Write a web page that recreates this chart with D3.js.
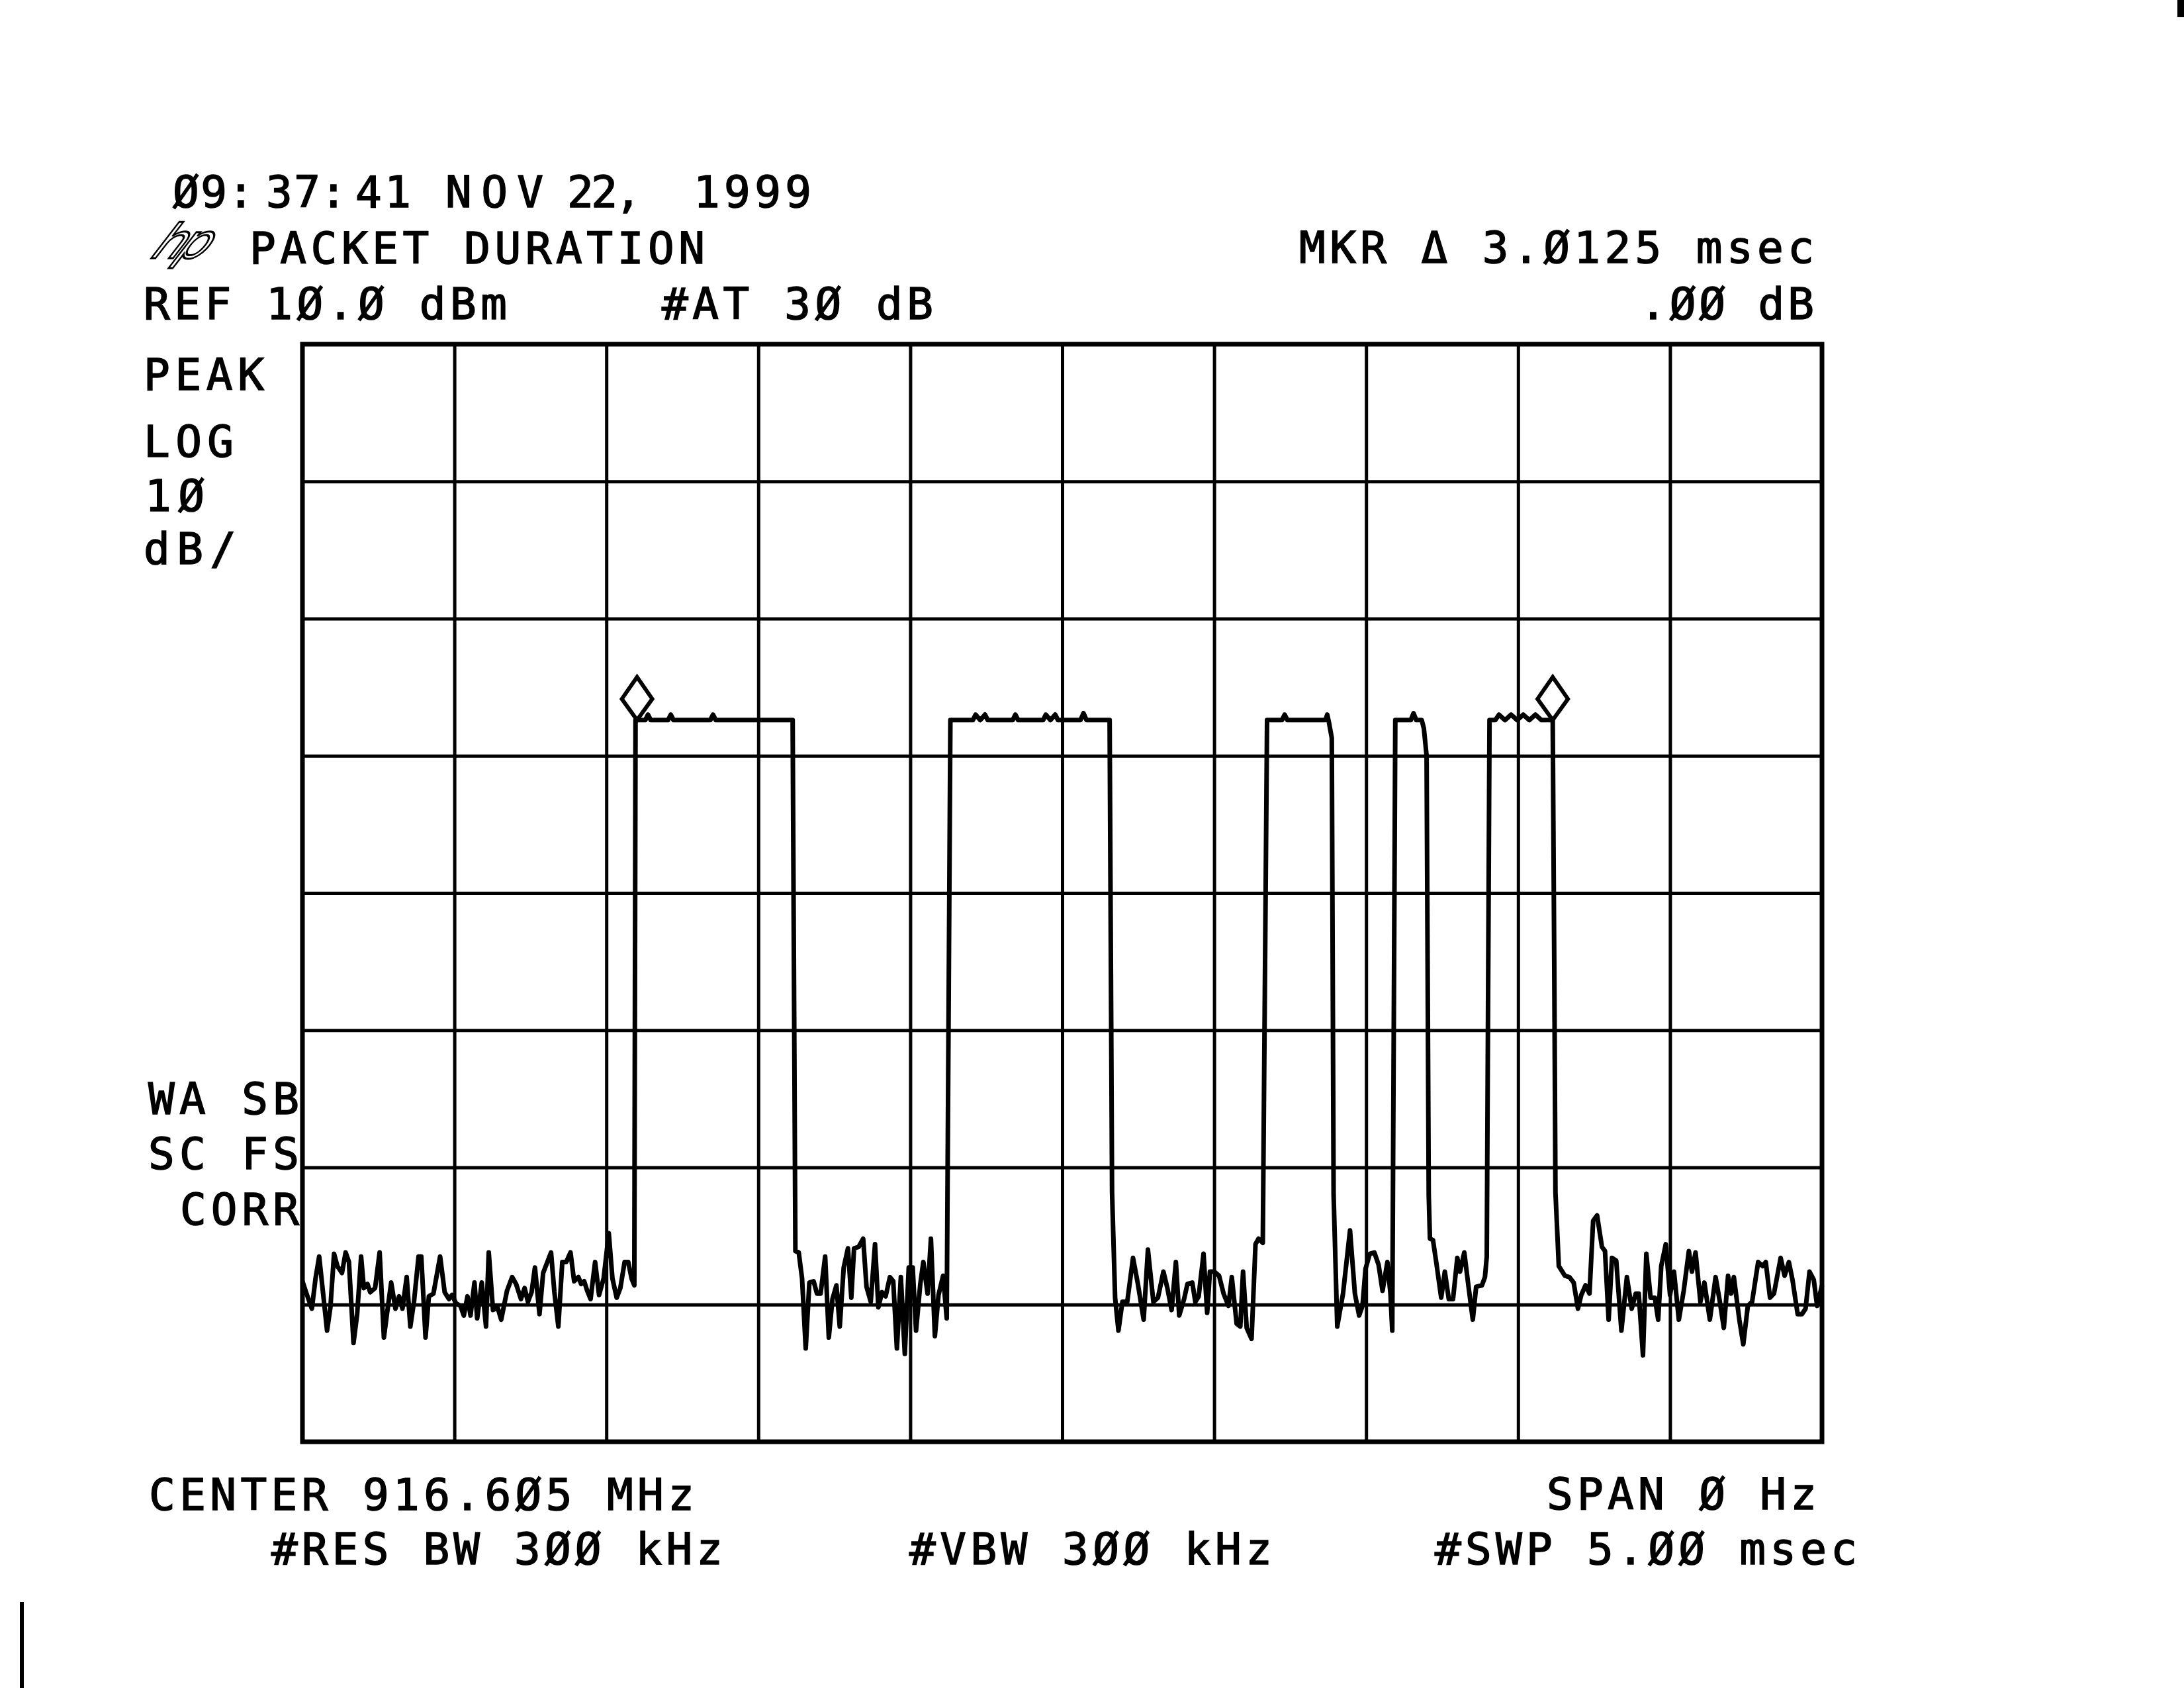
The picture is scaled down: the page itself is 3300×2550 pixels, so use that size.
<!DOCTYPE html>
<html>
<head>
<meta charset="utf-8">
<script src="https://cdn.jsdelivr.net/npm/d3@7"></script>
<style>
  body { margin: 0; background: #fff; }
  text { font-family: "DejaVu Sans Mono", monospace; font-size: 66px; fill: #000; stroke: #000; stroke-width: 1.6px; }
</style>
</head>
<body>
<div id="plot"></div>
<script>
// HP spectrum analyzer plot, zero span, 5 ms sweep
var sweepMs = [0, 5];
var refLevel = 10;          // dBm, top of screen
var dbPerDiv = 10;
var divsX = 10, divsY = 8;

// trace, [ms, dBm]
var noiseLead = [[0.000,-58.3],[0.015,-59.3],[0.031,-60.3],[0.043,-58.1],[0.055,-56.5],[0.069,-59.4],[0.081,-61.9],[0.092,-60.2],[0.104,-56.3],[0.115,-57.2],[0.130,-57.7],[0.142,-56.2],[0.153,-56.9],[0.168,-62.8],[0.180,-60.7],[0.193,-56.5],[0.202,-58.8],[0.214,-58.5],[0.223,-59.1],[0.239,-58.8],[0.254,-56.2],[0.268,-62.4],[0.278,-60.7],[0.292,-58.4],[0.306,-60.3],[0.318,-59.4],[0.329,-60.3],[0.343,-58.0],[0.355,-61.6],[0.367,-59.8],[0.382,-56.5],[0.391,-56.5],[0.405,-62.4],[0.416,-59.4],[0.431,-59.2],[0.453,-56.5],[0.468,-59.1],[0.482,-59.6],[0.492,-59.3],[0.505,-59.9],[0.520,-60.1],[0.531,-60.8],[0.543,-59.4],[0.553,-60.8],[0.566,-58.4],[0.575,-61.0],[0.590,-58.4],[0.604,-61.6],[0.613,-56.2],[0.627,-60.4],[0.642,-60.2],[0.654,-61.1],[0.673,-59.0],[0.690,-58.0],[0.703,-58.5],[0.719,-59.6],[0.731,-58.8],[0.742,-59.8],[0.754,-59.1],[0.765,-57.3],[0.780,-60.7],[0.792,-57.7],[0.818,-56.2],[0.829,-59.1],[0.842,-61.6],[0.855,-56.9],[0.868,-56.9],[0.882,-56.2],[0.894,-58.3],[0.908,-58.0],[0.917,-58.5],[0.927,-58.3],[0.937,-59.0],[0.948,-59.6],[0.963,-56.9],[0.976,-59.3],[0.991,-58.1],[1.008,-54.8],[1.020,-58.1],[1.034,-59.5],[1.046,-58.8],[1.060,-56.9],[1.072,-56.9],[1.083,-58.1],[1.092,-58.6]];
var packet1 = [[1.096,-17.4],[1.128,-17.4],[1.137,-17.0],[1.146,-17.4],[1.203,-17.4],[1.212,-17.0],[1.221,-17.4],[1.342,-17.4],[1.351,-17.0],[1.360,-17.4],[1.613,-17.4],[1.622,-56.1]];
var noiseGap1 = [[1.633,-56.2],[1.644,-58.1],[1.656,-63.2],[1.668,-58.4],[1.682,-58.3],[1.693,-59.2],[1.705,-59.2],[1.720,-56.5],[1.732,-62.4],[1.744,-59.6],[1.757,-58.6],[1.768,-61.6],[1.781,-57.3],[1.795,-55.9],[1.806,-59.5],[1.815,-55.9],[1.830,-55.8],[1.845,-55.2],[1.856,-58.7],[1.870,-59.8],[1.884,-55.6],[1.895,-60.2],[1.907,-59.1],[1.919,-59.4],[1.933,-58.0],[1.944,-58.3],[1.956,-63.2],[1.969,-58.0],[1.982,-63.6],[1.995,-57.3],[2.008,-57.3],[2.019,-61.9],[2.033,-58.5],[2.043,-56.9],[2.057,-59.2],[2.068,-55.2],[2.081,-62.3],[2.093,-59.3],[2.108,-57.9],[2.120,-61.0]];
var packet2 = [[2.132,-17.4],[2.206,-17.4],[2.215,-17.0],[2.230,-17.4],[2.246,-17.0],[2.255,-17.4],[2.337,-17.4],[2.346,-17.0],[2.355,-17.4],[2.437,-17.4],[2.446,-17.0],[2.461,-17.4],[2.477,-17.0],[2.486,-17.4],[2.560,-17.4],[2.570,-16.9],[2.580,-17.4],[2.656,-17.4],[2.664,-51.8],[2.674,-59.5]];
var noiseGap2 = [[2.685,-61.9],[2.698,-59.8],[2.714,-59.8],[2.733,-56.6],[2.749,-58.5],[2.768,-61.1],[2.782,-56.0],[2.800,-59.8],[2.815,-59.5],[2.833,-57.6],[2.846,-58.8],[2.860,-60.4],[2.874,-56.9],[2.885,-60.8],[2.901,-59.6],[2.912,-58.5],[2.928,-58.4],[2.938,-59.8],[2.949,-59.4],[2.965,-56.3],[2.977,-60.6],[2.986,-57.6],[3.000,-57.6],[3.016,-57.9],[3.031,-59.2],[3.047,-60.1],[3.058,-58.0],[3.074,-61.4],[3.086,-61.6],[3.095,-57.6],[3.107,-61.7],[3.123,-62.5],[3.136,-55.6],[3.146,-55.2],[3.160,-55.5]];
var packet3 = [[3.174,-17.4],[3.223,-17.4],[3.232,-17.0],[3.241,-17.4],[3.366,-17.4],[3.372,-17.0],[3.378,-17.6],[3.387,-18.7],[3.393,-52.0],[3.405,-61.6]];
var noiseGap3 = [[3.424,-59.2],[3.447,-54.6],[3.463,-59.2],[3.477,-60.8],[3.488,-60.1],[3.498,-57.4],[3.512,-56.3],[3.527,-56.2],[3.541,-57.1],[3.554,-59.0],[3.570,-56.9],[3.580,-59.2],[3.586,-61.9]];
var packet4 = [[3.596,-17.4],[3.647,-17.4],[3.656,-16.9],[3.665,-17.4],[3.683,-17.4],[3.690,-18.0],[3.699,-20.0],[3.706,-52.0]];
var noiseGap4 = [[3.710,-55.2],[3.720,-55.3],[3.732,-57.1],[3.747,-59.5],[3.759,-57.6],[3.772,-59.6],[3.786,-59.6],[3.800,-56.6],[3.809,-57.6],[3.823,-56.2],[3.837,-58.7],[3.851,-61.1],[3.862,-58.7],[3.881,-58.6],[3.891,-58.0],[3.897,-56.5]];
var packet5 = [[3.906,-17.4],[3.925,-17.4],[3.937,-17.0],[3.957,-17.4],[3.977,-17.0],[3.997,-17.4],[4.017,-17.0],[4.037,-17.4],[4.057,-17.0],[4.077,-17.4],[4.114,-17.4],[4.119,-35.0],[4.123,-51.8]];
var noiseTail = [[4.134,-57.2],[4.154,-57.9],[4.169,-58.0],[4.183,-58.4],[4.197,-60.3],[4.208,-59.3],[4.222,-58.6],[4.235,-59.2],[4.247,-53.9],[4.260,-53.5],[4.276,-55.8],[4.286,-56.1],[4.298,-61.1],[4.309,-56.6],[4.323,-56.8],[4.340,-61.9],[4.358,-58.0],[4.374,-60.3],[4.387,-59.2],[4.397,-59.2],[4.411,-63.7],[4.422,-56.3],[4.436,-59.5],[4.450,-59.5],[4.461,-61.1],[4.471,-57.2],[4.486,-55.6],[4.500,-59.3],[4.513,-57.6],[4.529,-61.1],[4.545,-59.0],[4.562,-56.1],[4.572,-57.6],[4.584,-56.2],[4.600,-59.8],[4.613,-58.4],[4.631,-61.1],[4.650,-58.0],[4.664,-59.8],[4.677,-61.7],[4.691,-57.9],[4.701,-59.2],[4.710,-58.0],[4.728,-61.1],[4.741,-62.9],[4.756,-60.1],[4.770,-59.8],[4.790,-56.9],[4.805,-57.2],[4.815,-56.9],[4.829,-59.5],[4.842,-59.2],[4.864,-56.6],[4.877,-57.9],[4.891,-56.9],[4.903,-58.2],[4.920,-60.7],[4.934,-60.7],[4.946,-60.3],[4.959,-57.6],[4.973,-58.2],[4.984,-60.1],[4.998,-58.8],[5.000,-58.6]];

var markerTimes = [1.101, 4.114];
var markerLevels = [-17.4, -17.4];

// header date, split where the plotter spacing changes
var dateParts = ["Ø9", ":", "37", ":", "41", "NOV", "22,", "1999"];
var dateStarts = [261, 344, 402, 484, 537, 673, 857, 1048];
var dateWidths = [82, 0, 82, 0, 84, 148, 112, 178];

// annotation text: [text, x, baseline, width]
var labels = [
  ["PACKET DURATION", 377, 398, 688],
  ["REF 1Ø.Ø dBm", 217, 482, 549],
  ["#AT 3Ø dB", 1000, 482, 410],
  ["MKR Δ 3.Ø125 msec", 1963, 397, 778],
  [".ØØ dB", 2478, 482, 263],
  ["PEAK", 217, 589, 182],
  ["LOG", 217, 690, 136],
  ["1Ø", 219, 772, 90],
  ["dB/", 217, 852, 140],
  ["WA SB", 224, 1683, 228],
  ["SC FS", 224, 1766, 228],
  ["CORR", 272, 1850, 180],
  ["CENTER 916.6Ø5 MHz", 225, 2281, 824],
  ["#RES BW 3ØØ kHz", 410, 2363, 682],
  ["#VBW 3ØØ kHz", 1374, 2363, 548],
  ["SPAN Ø Hz", 2337, 2280, 408],
  ["#SWP 5.ØØ msec", 2168, 2363, 638]
];

var W = 3300, H = 2550;
var plot = {left: 457, right: 2753, top: 520, bottom: 2178};

var svg = d3.select("#plot").append("svg")
  .attr("width", W).attr("height", H)
  .style("background", "#fff");

var x = d3.scaleLinear().domain(sweepMs).range([plot.left, plot.right]);
var y = d3.scaleLinear()
  .domain([refLevel - dbPerDiv * divsY, refLevel])
  .range([plot.bottom, plot.top]);

var xTicks = d3.range(divsX + 1).map(i => sweepMs[0] + i * (sweepMs[1] - sweepMs[0]) / divsX);
var yTicks = d3.range(divsY + 1).map(i => refLevel - i * dbPerDiv);

// graticule drawn with axes, labels off
svg.append("g")
  .attr("transform", "translate(0," + plot.bottom + ")")
  .call(d3.axisBottom(x).tickValues(xTicks).tickFormat("")
    .tickSize(-(plot.bottom - plot.top)).tickSizeOuter(0))
  .call(g => g.select(".domain").remove())
  .selectAll("line").attr("stroke", "#000").attr("stroke-width", 5);

svg.append("g")
  .attr("transform", "translate(" + plot.left + ",0)")
  .call(d3.axisLeft(y).tickValues(yTicks).tickFormat("")
    .tickSize(-(plot.right - plot.left)).tickSizeOuter(0))
  .call(g => g.select(".domain").remove())
  .selectAll("line").attr("stroke", "#000").attr("stroke-width", 5);

svg.append("rect")
  .attr("x", plot.left).attr("y", plot.top)
  .attr("width", plot.right - plot.left).attr("height", plot.bottom - plot.top)
  .attr("fill", "none").attr("stroke", "#000").attr("stroke-width", 7);

var trace = [].concat(noiseLead, packet1, noiseGap1, packet2, noiseGap2,
  packet3, noiseGap3, packet4, noiseGap4, packet5, noiseTail);

svg.append("path")
  .datum(trace)
  .attr("fill", "none")
  .attr("stroke", "#000")
  .attr("stroke-width", 7)
  .attr("stroke-linejoin", "round")
  .attr("d", d3.line().x(d => x(d[0])).y(d => y(d[1])));

// marker diamonds sit on the trace
svg.selectAll(".marker")
  .data(markerTimes)
  .join("path")
  .attr("class", "marker")
  .attr("fill", "none").attr("stroke", "#000").attr("stroke-width", 6)
  .attr("d", function(t, i) {
    var cx = x(t), by = y(markerLevels[i]);
    return "M" + cx + "," + by + "L" + (cx + 23) + "," + (by - 32) +
      "L" + cx + "," + (by - 65) + "L" + (cx - 23) + "," + (by - 32) + "Z";
  });

svg.selectAll(".date")
  .data(dateParts)
  .join("text")
  .attr("class", "date")
  .attr("x", (d, i) => dateStarts[i])
  .attr("y", 313)
  .each(function(d, i) {
    if (dateWidths[i] > 0) {
      d3.select(this).attr("textLength", dateWidths[i]).attr("lengthAdjust", "spacing");
    }
  })
  .text(d => d);

// hp logo
svg.append("text")
  .attr("transform", "translate(226,390) skewX(-30)")
  .style("font-family", "DejaVu Sans")
  .style("font-size", "72px")
  .style("font-style", "italic")
  .style("letter-spacing", "-8px")
  .style("fill", "none").style("stroke-width", "3px")
  .text("hp");

svg.selectAll(".lbl")
  .data(labels)
  .join("text")
  .attr("class", "lbl")
  .attr("x", d => d[1])
  .attr("y", d => d[2])
  .attr("textLength", d => d[3])
  .attr("lengthAdjust", "spacing")
  .text(d => d[0]);

// scanner edge marks
svg.append("rect").attr("x", 30).attr("y", 2420).attr("width", 6).attr("height", 130).attr("fill", "#000");
svg.append("rect").attr("x", 3290).attr("y", 0).attr("width", 10).attr("height", 26).attr("fill", "#000");
</script>
</body>
</html>
